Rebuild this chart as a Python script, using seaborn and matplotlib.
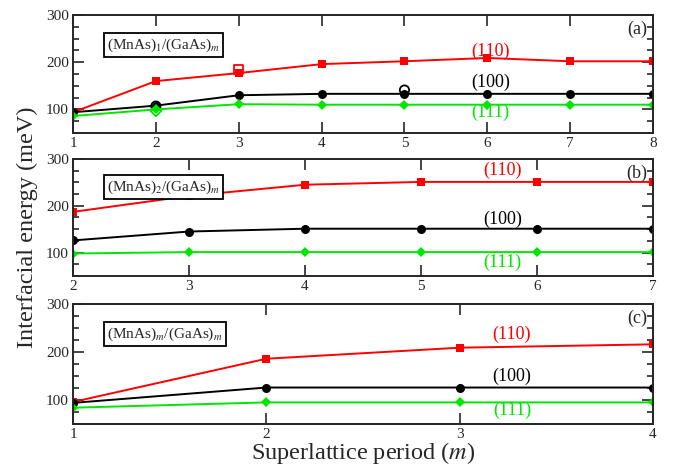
import matplotlib
matplotlib.use('Agg')
import matplotlib.pyplot as plt
from matplotlib.ticker import MultipleLocator
import seaborn as sns

# Panel (a): (MnAs)1/(GaAs)m
m_a = [1, 2, 3, 4, 5, 6, 7, 8]
e110_a = [94, 160, 177, 196, 202, 209, 202, 202]
e100_a = [94, 108, 130, 133, 133, 133, 133, 133]
e111_a = [86, 100, 111, 110, 110, 110, 110, 110]
# open symbols in panel (a)
open110_m, open110_e = [3], [185]
open100_m, open100_e = [2, 5], [107, 141]
open111_m, open111_e = [2], [97]

# Panel (b): (MnAs)2/(GaAs)m
m_b = [2, 3, 4, 5, 6, 7]
e110_b = [187, 221, 245, 251, 251, 251]
e100_b = [126, 145, 151, 151, 151, 151]
e111_b = [98, 101, 101, 101, 101, 101]

# Panel (c): (MnAs)m/(GaAs)m
m_c = [1, 2, 3, 4]
e110_c = [96, 186, 209, 216]
e100_c = [94, 126, 126, 126]
e111_c = [84, 95, 95, 95]

panel_tags = ['(a)', '(b)', '(c)']
box_texts = [r'(MnAs)$_1$/(GaAs)$_m$', r'(MnAs)$_2$/(GaAs)$_m$', r'(MnAs)$_m$/(GaAs)$_m$']
series_names = ['(110)', '(100)', '(111)']

red = '#ff0000'
black = '#000000'
green = '#00e600'

sns.set_style('ticks')
plt.rcParams['font.family'] = ['Liberation Serif', 'DejaVu Serif']
plt.rcParams['mathtext.fontset'] = 'stix'

fig = plt.figure(figsize=(6.78, 4.68), dpi=100)
ax_a = fig.add_axes([0.1077, 0.7158, 0.8555, 0.2521])
ax_b = fig.add_axes([0.1077, 0.4103, 0.8555, 0.2500])
ax_c = fig.add_axes([0.1077, 0.0940, 0.8555, 0.2564])

# axis, x, three series, label x position, label y positions, box y
panels = [
    (ax_a, m_a, e110_a, e100_a, e111_a, 6.04, [223, 158, 94], 0.745),
    (ax_b, m_b, e110_b, e100_b, e111_b, 5.7, [276, 172, 80], 0.76),
    (ax_c, m_c, e110_c, e100_c, e111_c, 3.27, [236, 149, 78], 0.75),
]

for i, (ax, m, e110, e100, e111, lab_x, lab_y, box_y) in enumerate(panels):
    sns.lineplot(x=m, y=e110, color=red, marker='s', markersize=6, markeredgewidth=0,
                 linewidth=1.4, ax=ax)
    sns.lineplot(x=m, y=e100, color=black, marker='o', markersize=6.5, markeredgewidth=0,
                 linewidth=1.4, ax=ax)
    sns.lineplot(x=m, y=e111, color=green, marker='D', markersize=5, markeredgewidth=0,
                 linewidth=1.4, ax=ax)

    for name, y, c in zip(series_names, lab_y, [red, black, green]):
        ax.text(lab_x, y, name, color=c, fontsize=13, ha='center', va='center')

    ax.text(0.058, box_y, box_texts[i], transform=ax.transAxes, fontsize=11,
            ha='left', va='center',
            bbox=dict(boxstyle='square,pad=0.2', facecolor='white',
                      edgecolor='black', linewidth=1.3))
    ax.text(0.99, 0.88, panel_tags[i], transform=ax.transAxes, fontsize=13,
            ha='right', va='center')

    ax.set_xlim(m[0], m[-1])
    ax.set_ylim(50, 300)
    ax.set_xticks(m)
    ax.set_yticks([100, 200, 300])
    ax.yaxis.set_minor_locator(MultipleLocator(25))
    ax.tick_params(which='major', direction='in', top=True, right=True,
                   length=8, width=1.2, labelsize=11, pad=3)
    ax.tick_params(which='minor', direction='in', left=True, right=True,
                   length=4, width=1.2)
    for sp in ax.spines.values():
        sp.set_linewidth(1.4)
    ax.set_xlabel('')
    ax.set_ylabel('')

# open symbols in panel (a)
sns.scatterplot(x=open110_m, y=open110_e, marker='s', s=45, facecolor='none',
                edgecolor=red, linewidth=1.3, ax=ax_a)
sns.scatterplot(x=open100_m, y=open100_e, marker='o', s=45, facecolor='none',
                edgecolor=black, linewidth=1.3, ax=ax_a)
sns.scatterplot(x=open111_m, y=open111_e, marker='D', s=30, facecolor='none',
                edgecolor=green, linewidth=1.3, ax=ax_a)

fig.text(0.04, 0.515, 'Interfacial energy (meV)', rotation=90, fontsize=17.5,
         ha='center', va='center')
ax_c.set_xlabel('Superlattice period ($m$)', fontsize=17.5, labelpad=-1)

fig.savefig('out.png', dpi=100)
